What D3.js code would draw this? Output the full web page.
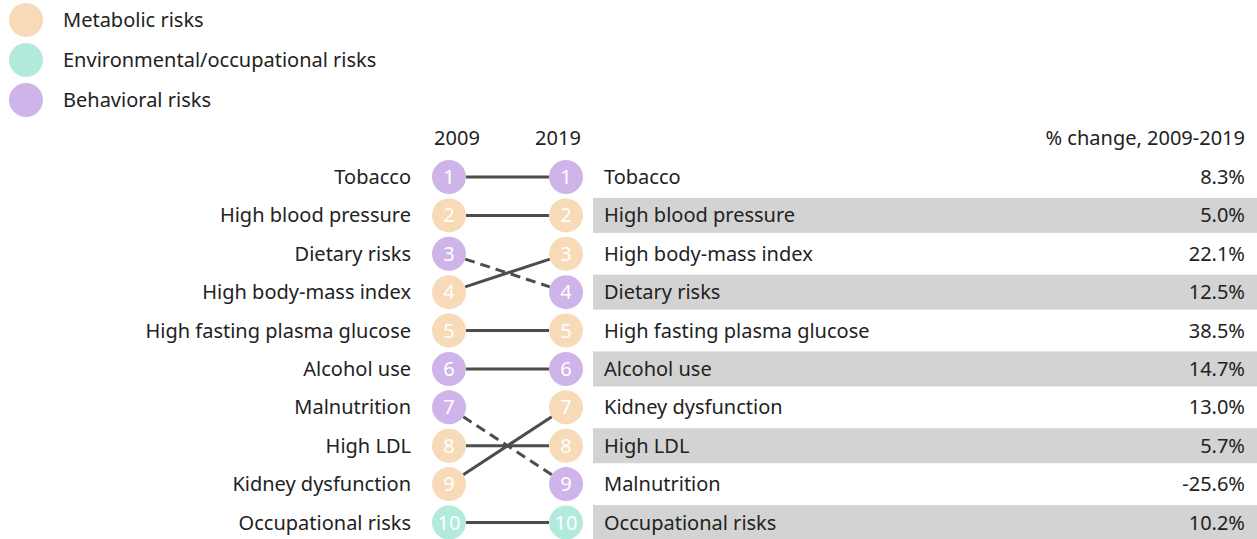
<!DOCTYPE html>
<html>
<head>
<meta charset="utf-8">
<script src="https://cdn.jsdelivr.net/npm/d3@7"></script>
<style>
  body { margin: 0; background: #fff; }
  text { font-family: "Noto Sans", sans-serif; }
</style>
</head>
<body>
<div id="chart"></div>
<script>
// data
var risks2009 = ["Tobacco", "High blood pressure", "Dietary risks", "High body-mass index",
  "High fasting plasma glucose", "Alcohol use", "Malnutrition", "High LDL",
  "Kidney dysfunction", "Occupational risks"];
var risks2019 = ["Tobacco", "High blood pressure", "High body-mass index", "Dietary risks",
  "High fasting plasma glucose", "Alcohol use", "Kidney dysfunction", "High LDL",
  "Malnutrition", "Occupational risks"];
var pctChange2019 = ["8.3%", "5.0%", "22.1%", "12.5%", "38.5%", "14.7%", "13.0%", "5.7%", "-25.6%", "10.2%"];
var riskGroup = {
  "Tobacco": "Behavioral risks",
  "High blood pressure": "Metabolic risks",
  "Dietary risks": "Behavioral risks",
  "High body-mass index": "Metabolic risks",
  "High fasting plasma glucose": "Metabolic risks",
  "Alcohol use": "Behavioral risks",
  "Malnutrition": "Behavioral risks",
  "High LDL": "Metabolic risks",
  "Kidney dysfunction": "Metabolic risks",
  "Occupational risks": "Environmental/occupational risks"
};
var groups = ["Metabolic risks", "Environmental/occupational risks", "Behavioral risks"];
var years = ["2009", "2019"];

var width = 1257, height = 539;
var fs = 20;
var svg = d3.select("#chart").append("svg")
  .attr("width", width).attr("height", height);

var color = d3.scaleOrdinal()
  .domain(groups)
  .range(["#f7dab7", "#b2eadc", "#cfb4ea"]);

var ranks = d3.range(1, 11);
var y = d3.scaleLinear().domain([1, 10]).range([177, 522.5]);
var x = d3.scalePoint().domain(years).range([449, 566]);
var r = 17;

// legend
var legend = svg.append("g").selectAll("g")
  .data(groups).enter().append("g")
  .attr("transform", function(d, i) { return "translate(26," + (20 + i * 40) + ")"; });
legend.append("circle").attr("r", r).attr("fill", function(d) { return color(d); });
legend.append("text").attr("x", 37).attr("dy", "0.35em")
  .attr("font-size", fs).attr("fill", "#222").text(function(d) { return d; });

// headers
svg.selectAll(".yr").data(years).enter().append("text")
  .attr("x", function(d, i) { return x(d) + (i == 0 ? 8 : -8); })
  .attr("y", 138).attr("dy", "0.35em").attr("text-anchor", "middle")
  .attr("font-size", fs).attr("fill", "#222").text(function(d) { return d; });
svg.append("text").attr("x", 1245).attr("y", 138).attr("dy", "0.35em")
  .attr("text-anchor", "end").attr("font-size", fs).attr("fill", "#222")
  .text("% change, 2009-2019");

// grey bands on even rows
svg.selectAll(".band").data(ranks.filter(function(d) { return d % 2 == 0; }))
  .enter().append("rect")
  .attr("x", 593).attr("width", width - 593)
  .attr("y", function(d) { return y(d) - 17.5; }).attr("height", 35)
  .attr("fill", "#d3d3d3");

// connecting lines, trimmed to the circle edges
var links = risks2009.map(function(name, i) {
  var from = i + 1, to = risks2019.indexOf(name) + 1;
  var dx = x("2019") - x("2009"), dy = y(to) - y(from), len = Math.sqrt(dx * dx + dy * dy);
  return { name: name, from: from, to: to, ux: r * dx / len, uy: r * dy / len };
});
svg.selectAll(".link").data(links).enter().append("line")
  .attr("x1", function(d) { return x("2009") + d.ux; })
  .attr("y1", function(d) { return y(d.from) + d.uy; })
  .attr("x2", function(d) { return x("2019") - d.ux; })
  .attr("y2", function(d) { return y(d.to) - d.uy; })
  .attr("stroke", "#4d4d4d").attr("stroke-width", 3)
  .attr("stroke-dasharray", function(d) { return d.to > d.from ? "10,6" : null; });

// rank circles
function drawColumn(list, year) {
  var g = svg.append("g").selectAll("g").data(list).enter().append("g")
    .attr("transform", function(d, i) { return "translate(" + x(year) + "," + y(i + 1) + ")"; });
  g.append("circle").attr("r", r).attr("fill", function(d) { return color(riskGroup[d]); });
  g.append("text").attr("text-anchor", "middle").attr("dy", "0.35em")
    .attr("font-size", fs).attr("fill", "#fff")
    .text(function(d, i) { return i + 1; });
}
drawColumn(risks2009, "2009");
drawColumn(risks2019, "2019");

// labels
svg.selectAll(".l2009").data(risks2009).enter().append("text")
  .attr("x", 411).attr("y", function(d, i) { return y(i + 1); }).attr("dy", "0.35em")
  .attr("text-anchor", "end").attr("font-size", fs).attr("fill", "#222")
  .text(function(d) { return d; });
svg.selectAll(".l2019").data(risks2019).enter().append("text")
  .attr("x", 604).attr("y", function(d, i) { return y(i + 1); }).attr("dy", "0.35em")
  .attr("font-size", fs).attr("fill", "#222")
  .text(function(d) { return d; });
svg.selectAll(".pct").data(pctChange2019).enter().append("text")
  .attr("x", 1245).attr("y", function(d, i) { return y(i + 1); }).attr("dy", "0.35em")
  .attr("text-anchor", "end").attr("font-size", fs).attr("fill", "#222")
  .text(function(d) { return d; });
</script>
</body>
</html>
